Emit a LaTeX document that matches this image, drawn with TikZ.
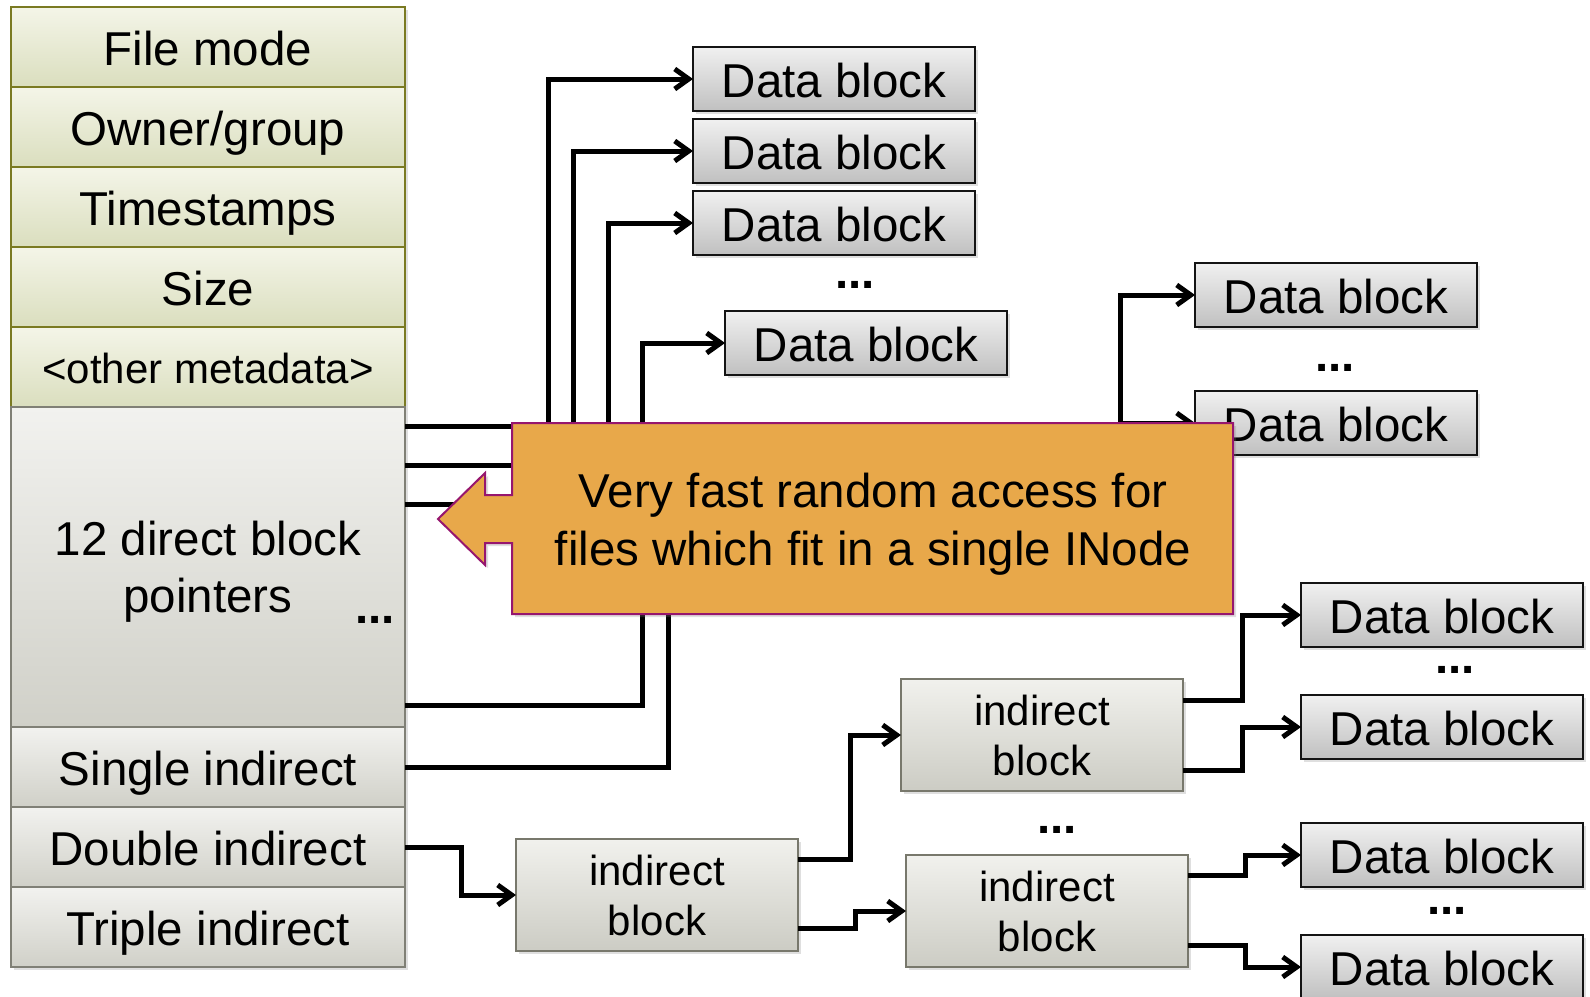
\documentclass[tikz,border=0pt]{standalone}
\usepackage{fontspec}
\setmainfont{Liberation Sans}
\usetikzlibrary{positioning,arrows.meta,shadows}

\definecolor{metaline}{RGB}{122,122,34}
\definecolor{metatop}{RGB}{244,245,232}
\definecolor{metabot}{RGB}{218,222,190}
\definecolor{rowline}{RGB}{128,128,118}
\definecolor{rowtop}{RGB}{242,242,239}
\definecolor{rowbot}{RGB}{208,208,200}
\definecolor{datatop}{RGB}{240,240,240}
\definecolor{databot}{RGB}{192,192,192}
\definecolor{indline}{RGB}{120,120,108}
\definecolor{indtop}{RGB}{241,241,237}
\definecolor{indbot}{RGB}{204,204,196}
\definecolor{notefill}{RGB}{232,168,74}
\definecolor{noteline}{RGB}{150,22,110}

\begin{document}
\begin{tikzpicture}[x=0.5pt, y=-0.5pt, node distance=0pt,
  every node/.style={outer sep=0pt, inner sep=0pt, font=\fontsize{23.75}{28.5}\selectfont},
  softshadow/.style={drop shadow={shadow xshift=1.5pt, shadow yshift=-1.5pt, opacity=0.25}},
  meta/.style={draw=metaline, line width=1pt, top color=metatop, bottom color=metabot,
    minimum width=197pt, minimum height=40pt, text height=18.5pt, text depth=0pt, softshadow},
  ptrrow/.style={meta, draw=rowline, top color=rowtop, bottom color=rowbot},
  datablk/.style={draw=black!92, line width=1pt, top color=datatop, bottom color=databot,
    minimum width=141pt, minimum height=32pt, text height=18.5pt, text depth=0pt, softshadow},
  indblk/.style={draw=indline, line width=1pt, top color=indtop, bottom color=indbot,
    minimum width=141pt, minimum height=56pt, align=center,
    font=\fontsize{21}{25}\selectfont, softshadow},
  gap/.style={font=\bfseries\fontsize{23.75}{28.5}\selectfont},
  wire/.style={line width=2.5pt},
  ptr/.style={wire, -{Straight Barb[length=7pt,width=10pt]}},
  note/.style={fill=notefill, draw=noteline, line width=1pt, softshadow}
]
\useasboundingbox (0,0) rectangle (1590,996);

% inode
\node[meta, anchor=north west] (mode) at (11,7) {File mode};
\node[meta, below=of mode] (owner) {Owner/group};
\node[meta, below=of owner] (times) {Timestamps};
\node[meta, below=of times] (size) {Size};
\node[meta, below=of size, font=\fontsize{21}{25}\selectfont, text height=16pt] (other) {<other metadata>};
\node[ptrrow, below=of other, minimum height=160pt, align=center, text height=, text depth=0pt] (direct) {12 direct block\\pointers};
\node[ptrrow, below=of direct] (single) {Single indirect};
\node[ptrrow, below=of single] (double) {Double indirect};
\node[ptrrow, below=of double] (triple) {Triple indirect};
\node[gap] (dots0) at (375,620) {...};

% direct data blocks
\node[datablk] (db1) at (834,79) {Data block};
\node[datablk, below=4pt of db1] (db2) {Data block};
\node[datablk, below=4pt of db2] (db3) {Data block};
\node[gap] (dots1) at (855,285) {...};
\node[datablk] (db4) at (866,343) {Data block};

% single indirect
\node[datablk] (db5) at (1336,295) {Data block};
\node[gap] (dots2) at (1335,368) {...};
\node[datablk] (db6) at (1336,423) {Data block};
\coordinate (under1) at (668,560);
\coordinate (under2) at (1120,540);

% double indirect
\node[indblk] (blkA) at (657,895) {indirect\\block};
\node[indblk] (blkB) at (1042,735) {indirect\\block};
\node[gap] (dots3) at (1057,830) {...};
\node[indblk] (blkC) at (1047,911) {indirect\\block};
\node[datablk] (db7) at (1442,615) {Data block};
\node[gap] (dots4) at (1455,670) {...};
\node[datablk] (db8) at (1442,727) {Data block};
\node[datablk] (db9) at (1442,855) {Data block};
\node[gap] (dots5) at (1447,911) {...};
\node[datablk] (db10) at (1442,967) {Data block};

\draw[ptr] ([yshift=70.25pt]direct.east) -- ++(143,0) |- (db1.west);
\draw[ptr] ([yshift=50.75pt]direct.east) -- ++(168,0) |- (db2.west);
\draw[ptr] ([yshift=31.25pt]direct.east) -- ++(203,0) |- (db3.west);
\draw[ptr] ([yshift=-69.25pt]direct.east) -- ++(237,0) |- (db4.west);
\draw[wire] (single.east) -| (under1);
\draw[ptr] (under2) |- (db5.west);
\draw[ptr] (under2) |- (db6.west);
\draw[ptr] (double.east) -- ++(56,0) |- (blkA.west);
\draw[ptr] ([yshift=18pt]blkA.east) -- ++(52,0) |- (blkB.west);
\draw[ptr] ([yshift=-16.5pt]blkA.east) -- ++(57,0) |- (blkC.west);
\draw[ptr] ([yshift=17.5pt]blkB.east) -- ++(59,0) |- (db7.west);
\draw[ptr] ([yshift=-17.5pt]blkB.east) -- ++(59,0) |- (db8.west);
\draw[ptr] ([yshift=18pt]blkC.east) -- ++(57,0) |- (db9.west);
\draw[ptr] ([yshift=-17pt]blkC.east) -- ++(57,0) |- (db10.west);

% callout
\path[note] (512,423) -- (1233,423) -- (1233,614) -- (512,614) -- (512,543)
  -- (485,543) -- (485,565) -- (438,519) -- (485,473) -- (485,495) -- (512,495) -- cycle;
\node[align=center, font=\fontsize{23.75}{29}\selectfont, text depth=0pt] (note) at (873,519)
  {Very fast random access for\\files which fit in a single INode};
\end{tikzpicture}
\end{document}
